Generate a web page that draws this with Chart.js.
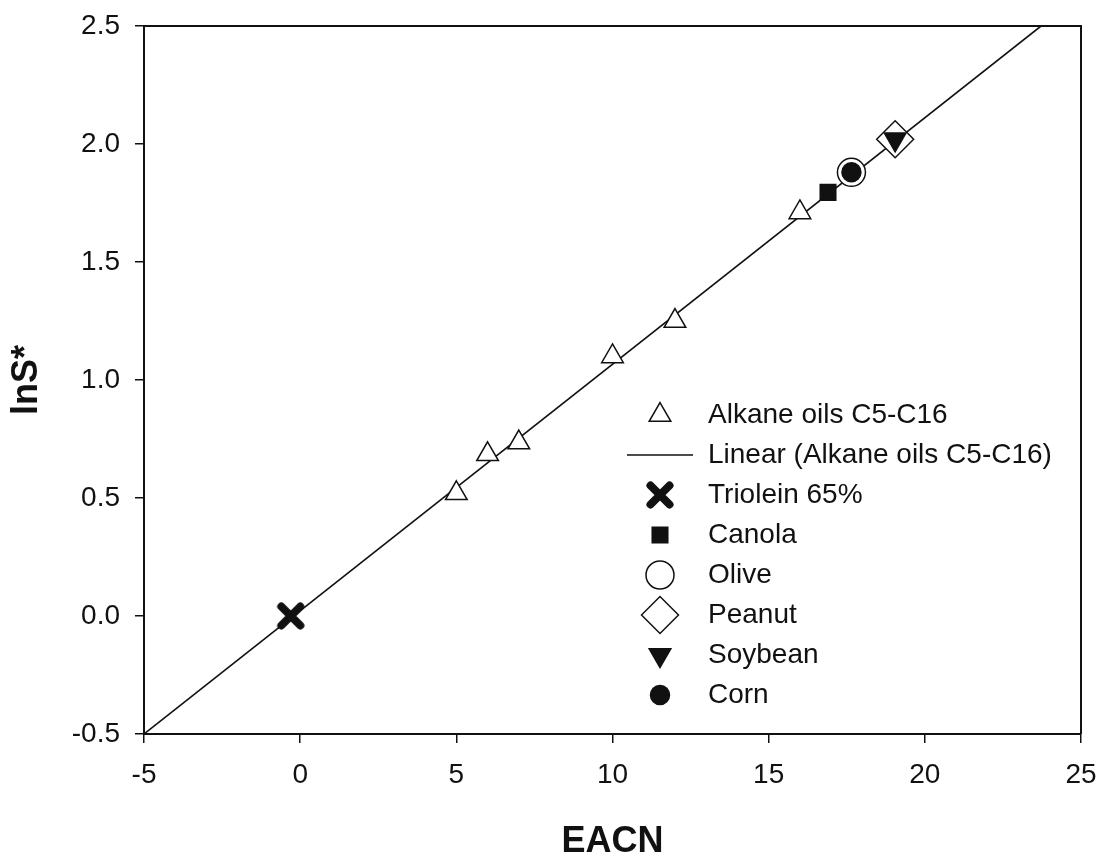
<!DOCTYPE html>
<html>
<head>
<meta charset="utf-8">
<style>
  html, body { margin: 0; padding: 0; background: #fff; }
  #wrap { width: 1101px; height: 856px; }
</style>
<script src="https://cdn.jsdelivr.net/npm/chart.js@4/dist/chart.umd.min.js"></script>
</head>
<body>
<div id="wrap"><canvas id="chart" width="1101" height="856"></canvas></div>
<script>
// ===== Data =====
const alkaneX = [5, 6, 7, 10, 12, 16];
const alkaneY = [0.52, 0.685, 0.735, 1.10, 1.25, 1.71];
const fitX = [-5, 23.72];
const fitY = [-0.5, 2.5];
const trioleinX = [-0.3];
const trioleinY = [0.0];
const canolaX = [16.9];
const canolaY = [1.795];
const oliveX = [17.65];
const oliveY = [1.88];
const peanutX = [19.05];
const peanutY = [2.02];
const soybeanX = [19.05];
const soybeanY = [2.02];
const cornX = [17.65];
const cornY = [1.88];

const xTicks = [-5, 0, 5, 10, 15, 20, 25];
const yTicks = [-0.5, 0.0, 0.5, 1.0, 1.5, 2.0, 2.5];

const FONT = "'Liberation Sans', Arial, sans-serif";
const INK = "#111";

const toPoints = (xs, ys) => xs.map((x, i) => ({ x: x, y: ys[i] }));

// bold rounded "X" marker used for Triolein
function makeCross() {
  const c = document.createElement("canvas");
  c.width = 32;
  c.height = 32;
  const g = c.getContext("2d");
  g.strokeStyle = INK;
  g.lineWidth = 8;
  g.lineCap = "round";
  g.beginPath();
  g.moveTo(6.5, 6.5); g.lineTo(25.5, 25.5);
  g.moveTo(25.5, 6.5); g.lineTo(6.5, 25.5);
  g.stroke();
  return c;
}
const crossImg = makeCross();

function marker(label, xs, ys, style, extra) {
  return Object.assign({
    label: label,
    data: toPoints(xs, ys),
    pointStyle: style,
    pointRadius: 12.5,
    pointHoverRadius: 12.5,
    pointBorderWidth: 1.5,
    pointBorderColor: INK,
    pointBackgroundColor: "#fff",
    borderColor: INK,
    backgroundColor: "#fff",
  }, extra || {});
}

const datasets = [
  marker("Alkane oils C5-C16", alkaneX, alkaneY, "triangle", { order: 5 }),
  {
    label: "Linear (Alkane oils C5-C16)",
    data: toPoints(fitX, fitY),
    showLine: true,
    pointRadius: 0,
    borderColor: INK,
    borderWidth: 1.6,
    order: 9,
    isLine: true,
  },
  marker("Triolein 65%", trioleinX, trioleinY, crossImg, { order: 5, pointBorderWidth: 0 }),
  marker("Canola", canolaX, canolaY, "rect", { order: 5, pointRadius: 11, pointBackgroundColor: INK, backgroundColor: INK }),
  marker("Olive", oliveX, oliveY, "circle", { order: 4, pointRadius: 14 }),
  marker("Peanut", peanutX, peanutY, "rectRot", { order: 4, pointRadius: 18.5 }),
  marker("Soybean", soybeanX, soybeanY, "triangle", { order: 1, pointRadius: 12.5, pointRotation: 180, pointBackgroundColor: INK, backgroundColor: INK }),
  marker("Corn", cornX, cornY, "circle", { order: 1, pointRadius: 9.5, pointBackgroundColor: INK, backgroundColor: INK }),
];

// ===== Frame + in-plot legend =====
const framePlugin = {
  id: "frame",
  afterDraw(chart) {
    const { ctx, chartArea: a } = chart;
    ctx.save();
    ctx.strokeStyle = INK;
    ctx.lineWidth = 2;
    ctx.beginPath();
    ctx.moveTo(a.left, a.top);
    ctx.lineTo(a.right, a.top);
    ctx.lineTo(a.right, a.bottom);
    ctx.stroke();

    // legend
    const symX = 660, textX = 708, top = 415, step = 40;
    ctx.font = "28px " + FONT;
    ctx.textBaseline = "middle";
    ctx.fillStyle = INK;
    chart.data.datasets.forEach((ds, i) => {
      const y = top + i * step;
      if (ds.isLine) {
        ctx.strokeStyle = INK;
        ctx.lineWidth = 1.6;
        ctx.beginPath();
        ctx.moveTo(627, y);
        ctx.lineTo(693, y);
        ctx.stroke();
      } else {
        ctx.fillStyle = ds.pointBackgroundColor;
        ctx.strokeStyle = ds.pointBorderColor;
        ctx.lineWidth = ds.pointBorderWidth;
        Chart.helpers.drawPoint(ctx, {
          pointStyle: ds.pointStyle,
          rotation: ds.pointRotation || 0,
          radius: ds.pointRadius,
          borderWidth: ds.pointBorderWidth,
        }, symX, y);
      }
      ctx.fillStyle = INK;
      ctx.fillText(ds.label, textX, y);
    });
    ctx.restore();
  },
};

// drop the automatic label overhang so layout.padding sets the plot box
function fixBox(size, key) {
  return (s) => {
    s[key] = size;
    s.paddingTop = 0;
    s.paddingBottom = 0;
    s.paddingLeft = 0;
    s.paddingRight = 0;
  };
}

new Chart(document.getElementById("chart").getContext("2d"), {
  type: "scatter",
  data: { datasets: datasets },
  options: {
    responsive: false,
    animation: false,
    events: [],
    layout: { padding: { top: 26, right: 18, left: 0, bottom: 0 } },
    plugins: {
      legend: { display: false },
      tooltip: { enabled: false },
    },
    scales: {
      x: {
        type: "linear",
        min: -5,
        max: 25,
        afterFit: fixBox(122, "height"),
        afterBuildTicks: (s) => { s.ticks = xTicks.map((v) => ({ value: v })); },
        ticks: {
          color: INK,
          font: { family: FONT, size: 28 },
          padding: 15,
          maxRotation: 0,
          callback: (v) => String(v),
        },
        grid: { drawOnChartArea: false, drawTicks: true, tickLength: 9, color: INK, lineWidth: 1.5 },
        border: { display: true, color: INK, width: 2 },
        title: {
          display: true,
          text: "EACN",
          color: INK,
          font: { family: FONT, size: 36, weight: "bold", lineHeight: 0.8 },
          padding: { top: 0, bottom: 0 },
        },
      },
      y: {
        type: "linear",
        min: -0.5,
        max: 2.5,
        afterFit: fixBox(144, "width"),
        afterBuildTicks: (s) => { s.ticks = yTicks.map((v) => ({ value: v })); },
        ticks: {
          color: INK,
          font: { family: FONT, size: 28 },
          padding: 15,
          callback: (v) => Number(v).toFixed(1),
        },
        grid: { drawOnChartArea: false, drawTicks: true, tickLength: 9, color: INK, lineWidth: 1.5 },
        border: { display: true, color: INK, width: 2 },
        title: {
          display: true,
          text: "lnS*",
          color: INK,
          font: { family: FONT, size: 36, weight: "bold", lineHeight: 0.8 },
          padding: { top: 13, bottom: 0 },
        },
      },
    },
  },
  plugins: [framePlugin],
});
</script>
</body>
</html>
